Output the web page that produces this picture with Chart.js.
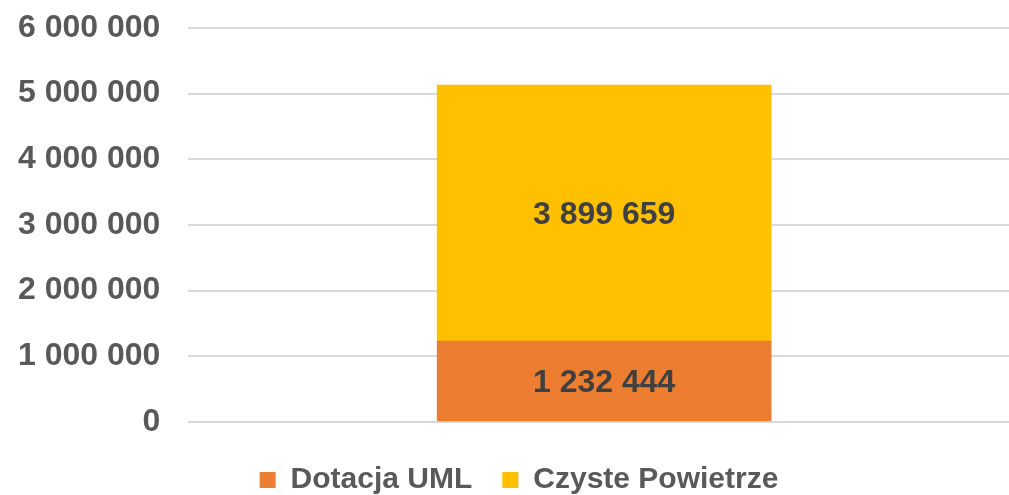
<!DOCTYPE html>
<html>
<head>
<meta charset="utf-8">
<script src="https://cdn.jsdelivr.net/npm/chart.js@4.4.0/dist/chart.umd.min.js"></script>
<style>
  html, body { margin: 0; padding: 0; background: #fff; overflow: hidden; }
  #wrap { width: 1020px; height: 495px; }
</style>
</head>
<body>
<div id="wrap"><canvas id="chart" width="1020" height="495"></canvas></div>
<script>
var categories = [''];
var seriesNames = ['Dotacja UML', 'Czyste Powietrze'];
var dotacjaUML = [1232444];
var czystePowietrze = [3899659];
var yTicks = [0, 1000000, 2000000, 3000000, 4000000, 5000000, 6000000];

function fmt(v) {
  return String(Math.round(v)).replace(/\B(?=(\d{3})+(?!\d))/g, ' ');
}

// draw value labels in the middle of each stacked segment
var valueLabels = {
  id: 'valueLabels',
  afterDatasetsDraw: function(chart) {
    var ctx = chart.ctx;
    ctx.save();
    ctx.font = 'bold 32px "Liberation Sans", Arial, sans-serif';
    ctx.fillStyle = '#404040';
    ctx.textAlign = 'center';
    ctx.textBaseline = 'middle';
    chart.data.datasets.forEach(function(ds, i) {
      var meta = chart.getDatasetMeta(i);
      meta.data.forEach(function(bar, j) {
        var mid = (bar.y + bar.base) / 2;
        ctx.fillText(fmt(ds.data[j]), bar.x, mid + 2);
      });
    });
    ctx.restore();
  }
};

var ctx = document.getElementById('chart');
new Chart(ctx.getContext('2d'), {
  type: 'bar',
  data: {
    labels: categories,
    datasets: [{
      label: seriesNames[0],
      data: dotacjaUML,
      backgroundColor: '#ED7D31',
      barThickness: 334
    }, {
      label: seriesNames[1],
      data: czystePowietrze,
      backgroundColor: '#FFC000',
      barThickness: 334
    }]
  },
  options: {
    responsive: false,
    animation: false,
    layout: { padding: { top: 28, left: 18, right: 0, bottom: -10 } },
    plugins: {
      tooltip: { enabled: false },
      legend: {
        position: 'bottom',
        labels: {
          boxWidth: 16,
          boxHeight: 16,
          padding: 30,
          color: '#595959',
          font: { family: '"Liberation Sans", Arial, sans-serif', size: 30, weight: 'bold' }
        }
      }
    },
    scales: {
      x: {
        stacked: true,
        grid: { display: false },
        border: { display: false },
        ticks: { display: false },
        afterFit: function(axis) { axis.height = 13; }
      },
      y: {
        stacked: true,
        min: 0,
        max: 6000000,
        afterBuildTicks: function(axis) {
          axis.ticks = yTicks.map(function(v) { return { value: v }; });
        },
        grid: { color: '#D9D9D9', lineWidth: 2, drawTicks: true, tickLength: 28, tickColor: 'rgba(0,0,0,0)' },
        border: { display: false },
        ticks: {
          padding: 0,
          color: '#595959',
          font: { family: '"Liberation Sans", Arial, sans-serif', size: 32, weight: 'bold' },
          callback: function(v) { return fmt(v); }
        }
      }
    }
  },
  plugins: [valueLabels]
});
</script>
</body>
</html>
